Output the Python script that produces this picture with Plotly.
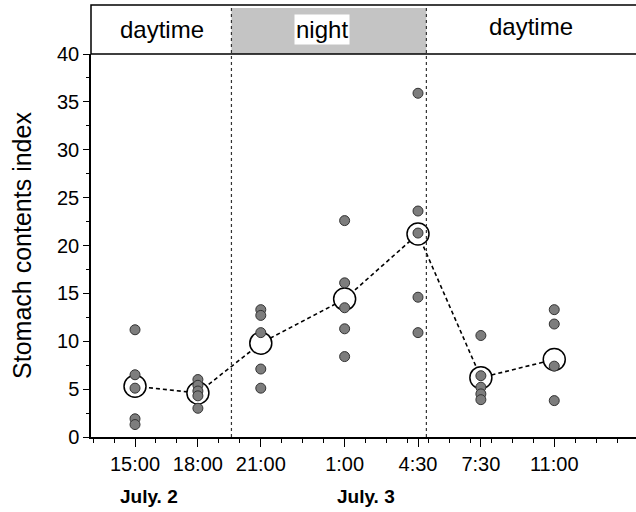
import plotly.graph_objects as go

# Sampling times (hours after 15:00 on July 2) and labels
time_hours = [0, 3, 6, 10, 13.5, 16.5, 20]
time_labels = ["15:00", "18:00", "21:00", "1:00", "4:30", "7:30", "11:00"]

# Individual stomach contents index values per sampling time
ind_values = [
    [11.2, 6.5, 5.1, 1.9, 1.3],
    [6.0, 5.4, 4.8, 4.3, 3.0],
    [13.3, 12.7, 10.9, 7.1, 5.1],
    [22.6, 16.1, 13.5, 11.3, 8.4],
    [35.9, 23.6, 21.3, 14.6, 10.9],
    [10.6, 6.4, 5.2, 4.5, 3.9],
    [13.3, 11.8, 7.4, 3.8],
]

# Mean values per sampling time
mean_values = [5.3, 4.6, 9.8, 14.4, 21.2, 6.2, 8.1]

# Night period boundaries (hours after 15:00)
night_start = 4.6
night_end = 13.9

x_min, x_max = -2.1, 23.9

font_family = "Liberation Sans, Arial, sans-serif"

ind_x, ind_y = [], []
for t, vals in zip(time_hours, ind_values):
    for v in vals:
        ind_x.append(t)
        ind_y.append(v)

fig = go.Figure()

fig.add_trace(go.Scatter(
    x=time_hours, y=mean_values, mode="lines",
    line=dict(color="black", width=1.6, dash="4px,3px"),
    showlegend=False, hoverinfo="skip"))

fig.add_trace(go.Scatter(
    x=time_hours, y=mean_values, mode="markers",
    marker=dict(size=22, color="white", line=dict(color="black", width=1.5)),
    showlegend=False))

fig.add_trace(go.Scatter(
    x=ind_x, y=ind_y, mode="markers",
    marker=dict(size=10, color="#7d7d7d", line=dict(color="#333333", width=1)),
    showlegend=False))

header_top = 1 + 49 / 383

shapes = [
    # night shading in header
    dict(type="rect", xref="x", yref="paper", x0=night_start, x1=night_end,
         y0=1, y1=1 + 46 / 383, fillcolor="#c4c4c4", line=dict(width=0), layer="below"),
    # header box
    dict(type="rect", xref="paper", yref="paper", x0=0, x1=1.01, y0=1, y1=header_top,
         line=dict(color="black", width=1.5)),
    # night boundaries
    dict(type="line", xref="x", yref="paper", x0=night_start, x1=night_start, y0=0, y1=header_top,
         line=dict(color="#333", width=1.2, dash="dot")),
    dict(type="line", xref="x", yref="paper", x0=night_end, x1=night_end, y0=0, y1=header_top,
         line=dict(color="#333", width=1.2, dash="dot")),
]

ann_font = dict(family=font_family, size=24, color="black")
annotations = [
    dict(x=1.3, y=1 + 25 / 383, xref="x", yref="paper", yanchor="middle",
         text="daytime", showarrow=False, font=ann_font),
    dict(x=8.9, y=1 + 24 / 383, xref="x", yref="paper", yanchor="middle", text="night",
         showarrow=False, font=ann_font, bgcolor="white", borderpad=1),
    dict(x=18.9, y=1 + 27 / 383, xref="x", yref="paper", yanchor="middle", text="daytime",
         showarrow=False, font=ann_font),
    dict(x=0.65, y=-60 / 383, xref="x", yref="paper", yanchor="middle", text="<b>July. 2</b>",
         showarrow=False, font=dict(family=font_family, size=19, color="black")),
    dict(x=11.0, y=-60 / 383, xref="x", yref="paper", yanchor="middle", text="<b>July. 3</b>",
         showarrow=False, font=dict(family=font_family, size=19, color="black")),
]

fig.update_layout(
    width=636, height=512,
    margin=dict(l=91, r=0, t=54, b=75),
    paper_bgcolor="white", plot_bgcolor="white",
    font=dict(family=font_family, size=20, color="black"),
    shapes=shapes, annotations=annotations,
    xaxis=dict(
        range=[x_min, x_max], tickmode="array", tickvals=time_hours, ticktext=time_labels,
        showgrid=False, zeroline=False, showline=True, linecolor="black", linewidth=1.5,
        ticks="outside", ticklen=8, tickwidth=1.2, tickcolor="black",
        tickfont=dict(size=20),
        minor=dict(tickmode="linear", tick0=0, dtick=1, ticks="outside", ticklen=4,
                   tickcolor="black", showgrid=False),
    ),
    yaxis=dict(
        range=[0, 40], tickmode="linear", tick0=0, dtick=5,
        showgrid=False, zeroline=False, showline=True, linecolor="black", linewidth=1.5,
        ticks="outside", ticklen=6, tickwidth=1.2, tickcolor="black",
        tickfont=dict(size=20),
        minor=dict(tickmode="linear", tick0=0, dtick=2.5, ticks="outside", ticklen=3,
                   tickcolor="black", showgrid=False),
        title=dict(text="Stomach contents index", font=dict(size=25), standoff=18),
    ),
)

fig.write_html("out.html")
